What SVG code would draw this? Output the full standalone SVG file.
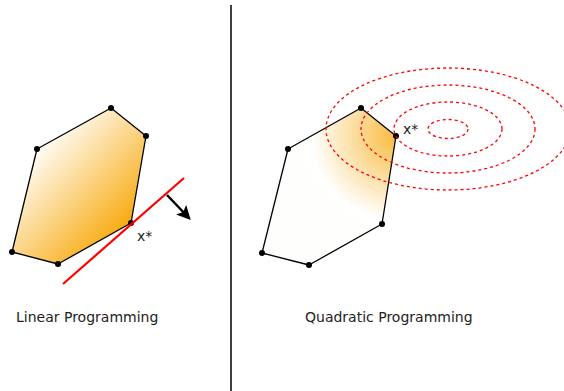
<svg xmlns="http://www.w3.org/2000/svg" width="564" height="391" viewBox="0 0 564 391">
<style>
.poly{stroke:#000;stroke-width:1.3;stroke-linejoin:round}
.dot{fill:#000}
.ell{fill:none;stroke:#f00;stroke-width:1.3;stroke-dasharray:3,3}
.lbl{font-family:"DejaVu Sans",sans-serif;font-size:14px;fill:#222}
</style>
<defs>
<linearGradient id="lg" x1="40" y1="140" x2="135" y2="230" gradientUnits="userSpaceOnUse">
<stop offset="0" stop-color="#fff"/>
<stop offset="1" stop-color="#f7a500"/>
</linearGradient>
<radialGradient id="rg" cx="396" cy="136" r="105" gradientUnits="userSpaceOnUse">
<stop offset="0" stop-color="#f9bb40"/>
<stop offset="0.8" stop-color="#fff" stop-opacity="1"/>
<stop offset="1" stop-color="#fefefc"/>
</radialGradient>
<marker id="ah" markerWidth="14" markerHeight="14" refX="10" refY="7" orient="auto" markerUnits="userSpaceOnUse" viewBox="0 0 14 14">
<path d="M0,0 L14,7 L0,14 L3,7 z" fill="#000"/>
</marker>
</defs>
<line x1="231" y1="5" x2="231" y2="391" stroke="#000" stroke-width="1.5"/>
<g id="lp-region">
<polygon class="poly" fill="url(#lg)" points="12,252 58,264 131,223 146,136 111,108 37,149"/>
<circle class="dot" cx="12" cy="252" r="3"/>
<circle class="dot" cx="58" cy="264" r="3"/>
<circle class="dot" cx="131" cy="223" r="3"/>
<circle class="dot" cx="146" cy="136" r="3"/>
<circle class="dot" cx="111" cy="108" r="3"/>
<circle class="dot" cx="37" cy="149" r="3"/>
</g>
<g id="qp-region">
<polygon class="poly" fill="url(#rg)" points="262,253 309,265 382,224 396,136 361,108 288,149"/>
<circle class="dot" cx="262" cy="253" r="3"/>
<circle class="dot" cx="309" cy="265" r="3"/>
<circle class="dot" cx="382" cy="224" r="3"/>
<circle class="dot" cx="396" cy="136" r="3"/>
<circle class="dot" cx="361" cy="108" r="3"/>
<circle class="dot" cx="288" cy="149" r="3"/>
</g>
<g id="connectors">
<line x1="63" y1="284" x2="184" y2="178" stroke="#f00" stroke-width="2.2"/>
<line x1="167" y1="195" x2="188" y2="217" stroke="#000" stroke-width="2.5" marker-end="url(#ah)"/>
</g>
<g id="contours">
<ellipse class="ell" cx="448" cy="129" rx="20" ry="9.5"/>
<ellipse class="ell" cx="448" cy="129" rx="54" ry="27"/>
<ellipse class="ell" cx="448" cy="129" rx="87" ry="44"/>
<ellipse class="ell" cx="448" cy="129" rx="122" ry="61"/>
</g>
<text class="lbl" x="137" y="241">x*</text>
<text class="lbl" x="403" y="134">x*</text>
<text class="lbl" x="16" y="322">Linear Programming</text>
<text class="lbl" x="305" y="322">Quadratic Programming</text>
</svg>
